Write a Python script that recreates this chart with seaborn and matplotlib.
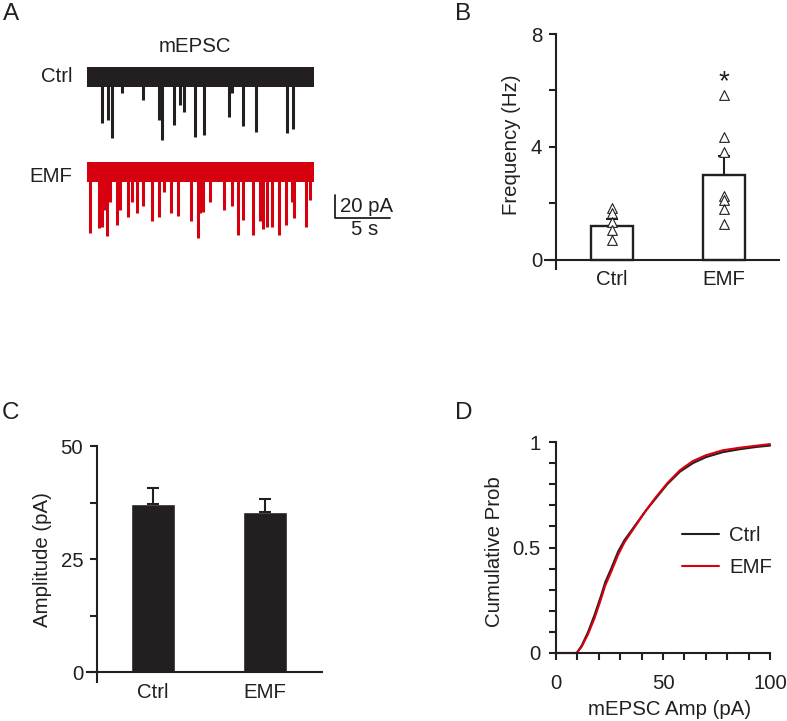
import matplotlib
matplotlib.use('Agg')
import matplotlib.pyplot as plt
import numpy as np
import pandas as pd
import seaborn as sns

W, H = 787, 721
BLACK = '#231f20'
RED = '#d7000f'
FS = 14.7

# ---- panel A: example traces (event times in s, peak amplitude in pA) ----
trace_len = 20.6
ctrl_event_t = [1.34, 1.88, 2.30, 3.15, 5.12, 6.55, 6.85, 7.94, 8.45, 8.82,
                9.82, 10.64, 12.94, 13.15, 14.21, 15.34, 18.21, 18.70]
ctrl_event_amp = [-40, -37, -53, -14, -20, -37, -55, -42, -24, -30,
                  -52, -50, -35, -14, -43, -48, -49, -45]
emf_event_t = [0.27, 1.09, 1.34, 1.57, 1.85, 2.09, 2.70, 3.00, 3.75, 4.06,
               4.52, 5.12, 5.88, 6.55, 7.00, 7.64, 8.30, 9.45, 10.06, 10.27,
               10.57, 11.18, 12.45, 13.20, 13.75, 14.20, 15.12, 15.73, 15.97, 16.39,
               16.79, 17.48, 18.09, 18.60, 18.82, 19.90, 20.27]
emf_event_amp = [-53, -49, -48, -33, -56, -26, -46, -33, -39, -26,
                 -36, -30, -43, -39, -17, -36, -38, -43, -57, -36,
                 -35, -26, -33, -30, -55, -42, -55, -43, -50, -48,
                 -48, -55, -46, -26, -40, -48, -24]

# ---- panel B: mEPSC frequency ----
groups = ['Ctrl', 'EMF']
freq_mean = [1.2, 3.0]
freq_sem = [0.25, 0.68]
freq_ctrl_cells = [1.85, 1.65, 1.35, 1.05, 0.70]
freq_emf_cells = [5.84, 4.35, 3.82, 2.27, 2.12, 1.80, 1.27]

# ---- panel C: mEPSC amplitude ----
amp_mean = [37.2, 35.4]
amp_sem = [3.5, 2.9]

# ---- panel D: cumulative amplitude distribution ----
cdf_amp = [0, 9.7, 12, 15, 18, 21, 23, 26, 29, 32, 37, 42, 46, 52, 58, 64, 70, 78, 86, 94, 100]
cdf_ctrl = [0, 0, 0.035, 0.10, 0.18, 0.27, 0.335, 0.405, 0.48, 0.535, 0.605, 0.675,
            0.725, 0.80, 0.86, 0.90, 0.928, 0.952, 0.966, 0.977, 0.983]
cdf_emf = [0, 0, 0.03, 0.09, 0.165, 0.255, 0.32, 0.39, 0.465, 0.525, 0.60, 0.675,
           0.73, 0.805, 0.867, 0.91, 0.937, 0.961, 0.973, 0.983, 0.99]

sns.set_style('ticks')
plt.rcParams['font.family'] = ['Liberation Sans', 'DejaVu Sans']
plt.rcParams['font.size'] = FS
plt.rcParams['axes.linewidth'] = 1.5
plt.rcParams['xtick.major.width'] = 1.5
plt.rcParams['ytick.major.width'] = 1.5
plt.rcParams['xtick.color'] = BLACK
plt.rcParams['ytick.color'] = BLACK
plt.rcParams['text.color'] = BLACK
plt.rcParams['axes.labelcolor'] = BLACK
plt.rcParams['axes.edgecolor'] = BLACK

fig = plt.figure(figsize=(W / 100, H / 100), dpi=100)


def px_axes(left, top, right, bottom):
    return fig.add_axes([left / W, 1 - bottom / H, (right - left) / W, (bottom - top) / H])


def px_text(x, y, s, **kw):
    fig.text(x / W, 1 - y / H, s, **kw)


# ================= A =================
axA = px_axes(87, 55, 395, 245)
emf_offset = -82.6
for offs, ts, amps, col in [(0, ctrl_event_t, ctrl_event_amp, BLACK),
                            (emf_offset, emf_event_t, emf_event_amp, RED)]:
    axA.fill_between([0, trace_len], offs - 9, offs + 9, color=col, lw=0)
    axA.vlines(ts, offs - 5, np.array(amps) + offs, color=col, lw=2.2)
# scale bar 20 pA / 5 s
axA.plot([22.5, 22.5, 27.5], [-102.6, -122.6, -122.6], color=BLACK, lw=1.3)
axA.set_xlim(0, (395 - 87) / 11)
axA.set_ylim(-(245 - 77) / 1.15, (77 - 55) / 1.15)
axA.axis('off')
px_text(340, 207, '20 pA', ha='left', va='center', fontsize=FS)
px_text(365, 229, '5 s', ha='center', va='center', fontsize=FS)
px_text(195, 46, 'mEPSC', ha='center', va='center', fontsize=FS)
px_text(73, 77, 'Ctrl', ha='right', va='center', fontsize=FS)
px_text(72, 176, 'EMF', ha='right', va='center', fontsize=FS)

# ================= B =================
axB = px_axes(545, 34, 779, 269)
sns.barplot(x=groups, y=freq_mean, order=groups, color='white', edgecolor=BLACK,
            linewidth=1.7, width=0.38, saturation=1, errorbar=None, ax=axB, zorder=1)
axB.errorbar([0, 1], freq_mean, yerr=[[0, 0], freq_sem], fmt='none', ecolor=BLACK,
             elinewidth=1.5, capsize=4, capthick=1.5, zorder=2)
cells = pd.DataFrame({'group': ['Ctrl'] * len(freq_ctrl_cells) + ['EMF'] * len(freq_emf_cells),
                      'freq': freq_ctrl_cells + freq_emf_cells})
sns.stripplot(data=cells, x='group', y='freq', order=groups, jitter=False, marker='^',
              size=7, color='white', edgecolor=BLACK, linewidth=0.8, ax=axB, zorder=3)
axB.text(1, 6.3, '*', ha='center', va='center', fontsize=20, color=BLACK)
axB.set_xlim(-0.598, 1.49)
axB.set_ylim(-0.32, 8)
axB.spines['top'].set_visible(False)
axB.spines['right'].set_visible(False)
axB.spines['left'].set_position(('data', -0.5))
axB.spines['left'].set_bounds(-0.32, 8)
axB.spines['bottom'].set_position(('data', 0))
axB.set_yticks([0, 2, 4, 6, 8])
axB.set_yticklabels(['0', '', '4', '', '8'])
axB.tick_params(axis='y', direction='out', length=5, pad=5, labelsize=FS)
axB.tick_params(axis='x', length=0, pad=7, labelsize=FS)
axB.set_xlabel('')
axB.set_ylabel('Frequency (Hz)', fontsize=FS, va='center')
axB.yaxis.set_label_coords(-0.142, 0.528)

# ================= C =================
axC = px_axes(87, 446, 322, 682)
sns.barplot(x=groups, y=amp_mean, order=groups, color=BLACK, width=0.39,
            saturation=1, errorbar=None, ax=axC, zorder=1)
axC.errorbar([0, 1], amp_mean, yerr=[[0, 0], amp_sem], fmt='none', ecolor=BLACK,
             elinewidth=1.5, capsize=4, capthick=1.5, zorder=2)
axC.set_xlim(-0.59, 1.51)
axC.set_ylim(-2.2, 50)
axC.spines['top'].set_visible(False)
axC.spines['right'].set_visible(False)
axC.spines['left'].set_position(('data', -0.5))
axC.spines['left'].set_bounds(-2.2, 50)
axC.spines['bottom'].set_position(('data', 0))
axC.set_yticks([0, 12.5, 25, 37.5, 50])
axC.set_yticklabels(['0', '', '25', '', '50'])
axC.tick_params(axis='y', direction='out', length=5, pad=5, labelsize=FS)
axC.tick_params(axis='x', length=0, pad=8, labelsize=FS)
axC.set_xlabel('')
axC.set_ylabel('Amplitude (pA)', fontsize=FS, va='center')
axC.yaxis.set_label_coords(-0.189, 0.517)

# ================= D =================
axD = px_axes(556, 442, 770, 653)
sns.lineplot(x=cdf_amp, y=cdf_ctrl, color=BLACK, lw=1.5, label='Ctrl', ax=axD)
sns.lineplot(x=cdf_amp, y=cdf_emf, color=RED, lw=1.5, label='EMF', ax=axD)
for ln in axD.lines:
    ln.set_clip_on(False)
axD.set_xlim(0, 100)
axD.set_ylim(0, 1)
sns.despine(ax=axD)
axD.set_xticks(np.arange(0, 101, 10))
axD.set_xticklabels(['0', '', '', '', '', '50', '', '', '', '', '100'])
axD.set_yticks(np.arange(0, 1.01, 0.1))
axD.set_yticklabels(['0', '', '', '', '', '0.5', '', '', '', '', '1'])
axD.tick_params(direction='out', length=5, labelsize=FS)
axD.tick_params(axis='x', pad=10)
axD.tick_params(axis='y', pad=6)
axD.set_xlabel('mEPSC Amp (pA)', fontsize=FS, va='center')
axD.xaxis.set_label_coords(0.533, -0.27)
axD.set_ylabel('Cumulative Prob', fontsize=FS, va='center')
axD.yaxis.set_label_coords(-0.287, 0.481)
axD.legend(frameon=False, loc='upper left', bbox_to_anchor=(0.589, 0.60),
           borderpad=0, borderaxespad=0, handlelength=1.8, handletextpad=0.5,
           labelspacing=0.6, fontsize=FS)

# panel letters
for lab, x, y in [('A', 3, 14), ('B', 455, 14), ('C', 2, 413), ('D', 455, 413)]:
    px_text(x, y, lab, ha='left', va='center', fontsize=17.5)

fig.savefig('out.png', dpi=100)
